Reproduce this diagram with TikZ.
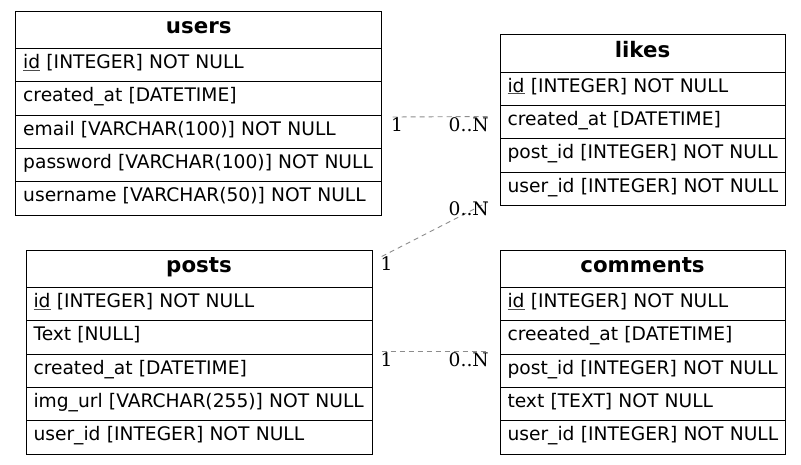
\documentclass[tikz,border=0pt]{standalone}
\usepackage{fontspec}
\setmainfont{DejaVu Sans}
\newfontfamily\lblfont{DejaVu Serif}
\newcommand\keyul[1]{\leavevmode\setbox0\hbox{#1}\rlap{\color{black!70}\rule[-2.2pt]{\wd0}{0.8pt}}\box0\relax}
\begin{document}
\begin{tikzpicture}[x=1pt,y=-1pt,
  cell/.style={draw=black, line width=1pt, anchor=north west, inner xsep=7.5pt, inner ysep=0pt, outer sep=0pt,
    text height=20pt, text depth=13.4pt, align=left, font=\fontsize{18.67}{22}\selectfont},
  head/.style={cell, align=center, text height=22.3pt, text depth=15pt,
    font=\fontsize{21.33}{24}\selectfont\bfseries},
  rel/.style={draw=black!45, dash pattern=on 5pt off 4pt, line width=0.9pt},
  lbl/.style={font=\lblfont\fontsize{18.67}{22}\selectfont, inner sep=0pt}]
\useasboundingbox (0,0) rectangle (801,464);
% users
\node[head, text width=351pt] (users) at (15.7,11) {users};
\node[cell, text width=351pt] (users-1) at (users.south west) {\mbox{\keyul{id} [INTEGER] NOT NULL}};
\node[cell, text width=351pt] (users-2) at (users-1.south west) {\mbox{created\_at [DATETIME]}};
\node[cell, text width=351pt] (users-3) at (users-2.south west) {\mbox{email [VARCHAR(100)] NOT NULL}};
\node[cell, text width=351pt] (users-4) at (users-3.south west) {\mbox{password [VARCHAR(100)] NOT NULL}};
\node[cell, text width=351pt] (users-5) at (users-4.south west) {\mbox{username [VARCHAR(50)] NOT NULL}};
% likes
\node[head, text width=270pt] (likes) at (500,34.7) {likes};
\node[cell, text width=270pt] (likes-1) at (likes.south west) {\mbox{\keyul{id} [INTEGER] NOT NULL}};
\node[cell, text width=270pt] (likes-2) at (likes-1.south west) {\mbox{created\_at [DATETIME]}};
\node[cell, text width=270pt] (likes-3) at (likes-2.south west) {\mbox{post\_id [INTEGER] NOT NULL}};
\node[cell, text width=270pt] (likes-4) at (likes-3.south west) {\mbox{user\_id [INTEGER] NOT NULL}};
% posts
\node[head, text width=331pt] (posts) at (26,250) {posts};
\node[cell, text width=331pt] (posts-1) at (posts.south west) {\mbox{\keyul{id} [INTEGER] NOT NULL}};
\node[cell, text width=331pt] (posts-2) at (posts-1.south west) {\mbox{Text [NULL]}};
\node[cell, text width=331pt] (posts-3) at (posts-2.south west) {\mbox{created\_at [DATETIME]}};
\node[cell, text width=331pt] (posts-4) at (posts-3.south west) {\mbox{img\_url [VARCHAR(255)] NOT NULL}};
\node[cell, text width=331pt] (posts-5) at (posts-4.south west) {\mbox{user\_id [INTEGER] NOT NULL}};
% comments
\node[head, text width=270pt] (comments) at (500,250) {comments};
\node[cell, text width=270pt] (comments-1) at (comments.south west) {\mbox{\keyul{id} [INTEGER] NOT NULL}};
\node[cell, text width=270pt] (comments-2) at (comments-1.south west) {\mbox{creeated\_at [DATETIME]}};
\node[cell, text width=270pt] (comments-3) at (comments-2.south west) {\mbox{post\_id [INTEGER] NOT NULL}};
\node[cell, text width=270pt] (comments-4) at (comments-3.south west) {\mbox{text [TEXT] NOT NULL}};
\node[cell, text width=270pt] (comments-5) at (comments-4.south west) {\mbox{user\_id [INTEGER] NOT NULL}};
% connector ends
\coordinate (ul-a) at (392.5,117);
\coordinate (ul-b) at (489,116.5);
\coordinate (pl-a) at (381.7,256.5);
\coordinate (pl-b) at (488,202);
\coordinate (pc-a) at (381.7,351);
\coordinate (pc-b) at (487,351);
\draw[rel] (ul-a) -- (ul-b);
\draw[rel] (pl-a) -- (pl-b);
\draw[rel] (pc-a) -- (pc-b);
% cardinality labels
\node[lbl, anchor=base west] (ul-1) at (391,131) {1};
\node[lbl, anchor=base east] (ul-n) at (489,131) {0..N};
\node[lbl, anchor=base east] (pl-n) at (489,215) {0..N};
\node[lbl, anchor=base west] (pl-1) at (380.5,270.5) {1};
\node[lbl, anchor=base west] (pc-1) at (380.5,366) {1};
\node[lbl, anchor=base east] (pc-n) at (489,366) {0..N};
\end{tikzpicture}
\end{document}
